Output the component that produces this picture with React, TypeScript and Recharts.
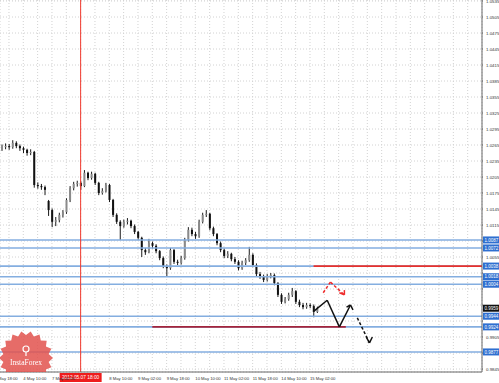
import React from "react";
import { ComposedChart, Bar, XAxis, YAxis, CartesianGrid, ReferenceLine } from "recharts";

// AUD/USD, 2h bars, 3 May - 15 May 2012
const CLOSE = [
  1.0261, 1.0263, 1.0261, 1.0269, 1.0263, 1.0259, 1.0256, 1.025, 1.0252, 1.019,
  1.0188, 1.0186, 1.0181, 1.0143, 1.0121, 1.0124, 1.0134, 1.0139, 1.0162, 1.0184,
  1.0192, 1.0194, 1.0188, 1.0213, 1.0203, 1.0211, 1.0194, 1.0175, 1.0179, 1.019,
  1.0162, 1.0134, 1.0121, 1.0113, 1.0121, 1.0123, 1.0113, 1.0102, 1.0091, 1.0068,
  1.0064, 1.0081, 1.0076, 1.0066, 1.0053, 1.0038, 1.0034, 1.0068, 1.0046, 1.0044,
  1.0053, 1.0087, 1.0106, 1.0098, 1.0094, 1.0121, 1.0134, 1.0136, 1.0109, 1.0098,
  1.0081, 1.0068, 1.0057, 1.0061, 1.0051, 1.0046, 1.0034, 1.0044, 1.0049, 1.0059,
  1.004, 1.0023, 1.0018, 1.0012, 1.0019, 1.0021, 1.0006, 0.9984, 0.9971, 0.9976,
  0.9984, 0.9991, 0.9971, 0.9965, 0.9961, 0.9965, 0.9963, 0.9952, 0.9959,
];
const HIGH = [
  1.0266, 1.0268, 1.0267, 1.0274, 1.0272, 1.0266, 1.0262, 1.0258, 1.0257, 1.0254,
  1.0195, 1.0192, 1.0189, 1.0162, 1.0146, 1.013, 1.0138, 1.0143, 1.0165, 1.0188,
  1.0196, 1.0198, 1.0197, 1.0218, 1.0215, 1.0215, 1.0213, 1.0196, 1.0184, 1.0194,
  1.0192, 1.0164, 1.0137, 1.0124, 1.0125, 1.0128, 1.0125, 1.0116, 1.0104, 1.0093,
  1.0072, 1.0089, 1.0084, 1.0079, 1.0068, 1.0056, 1.0041, 1.0072, 1.007, 1.005,
  1.0057, 1.0091, 1.0111, 1.011, 1.0102, 1.0125, 1.0138, 1.0143, 1.0138, 1.0112,
  1.01, 1.0084, 1.0071, 1.0066, 1.0063, 1.0055, 1.0049, 1.0048, 1.0053, 1.0074,
  1.0062, 1.0043, 1.0027, 1.0022, 1.0023, 1.0025, 1.0024, 1.0008, 0.9987, 0.998,
  0.9988, 0.9997, 0.9993, 0.9975, 0.9969, 0.9969, 0.9968, 0.9966, 0.9962,
];
const LOW = [
  1.0254, 1.0257, 1.0256, 1.0258, 1.0259, 1.0254, 1.025, 1.0245, 1.0246, 1.0185,
  1.0183, 1.0181, 1.0171, 1.0132, 1.0111, 1.0113, 1.012, 1.0129, 1.0136, 1.0158,
  1.018, 1.0187, 1.0181, 1.0186, 1.0199, 1.02, 1.019, 1.0171, 1.0172, 1.0176,
  1.0158, 1.013, 1.0117, 1.0087, 1.011, 1.0116, 1.0109, 1.0098, 1.0087, 1.0055,
  1.0059, 1.0062, 1.0071, 1.0062, 1.0049, 1.0034, 1.0018, 1.0031, 1.0042, 1.004,
  1.0041, 1.005, 1.0084, 1.0094, 1.0089, 1.0091, 1.0118, 1.013, 1.0105, 1.0094,
  1.0077, 1.0064, 1.0053, 1.0053, 1.0047, 1.0042, 1.003, 1.0031, 1.004, 1.0046,
  1.0036, 1.0019, 1.0014, 1.0008, 1.0009, 1.0015, 1.0002, 0.998, 0.9967, 0.9968,
  0.9973, 0.998, 0.9967, 0.9961, 0.9957, 0.9958, 0.9959, 0.9942, 0.995,
];
const FIRST_OPEN = 1.0258;
const GAP_OPENS: Record<number, number> = { 13: 1.016 };

const PRICE_TICKS = [
  1.0535, 1.0505, 1.0475, 1.0445, 1.0415, 1.0385, 1.0355, 1.0325, 1.0295, 1.0265,
  1.0235, 1.0205, 1.0175, 1.0145, 1.0115, 1.0085, 1.0055, 1.0025, 0.9995, 0.9965,
  0.9935, 0.9905, 0.9875, 0.9845,
];
const TIME_GRID = [-2, 2, 6, 10, 14, 18, 22, 26, 30, 34, 38, 42, 46, 50, 54, 58, 62, 66, 70, 74, 78, 82, 86, 90, 94, 98, 102, 106, 110, 114, 118, 122, 126, 130, 134];
const TIME_LABELS: Record<number, string> = {
  [-2]: "3 May 18:00",
  6: "4 May 10:00",
  14: "7 May 02:00",
  22: "7 May 18:00",
  30: "8 May 10:00",
  38: "9 May 02:00",
  46: "9 May 18:00",
  54: "10 May 10:00",
  62: "11 May 02:00",
  70: "11 May 18:00",
  78: "14 May 10:00",
  86: "15 May 02:00",
};

const LEVELS = [1.0087, 1.0072, 1.0038, 1.0018, 1.0004, 0.9944, 0.9924, 0.9877];
const LAST_PRICE = 0.9959;
const CURSOR_BAR = 22;
const CURSOR_TEXT = "2012.05.07 18:00";
const RESIST = { from: 87, to: 134, price: 1.0038 };
const SUPPORT = { from: 42, to: 96, price: 0.9924 };

// forecast paths: [bar, price]
const PATH_MAIN: [number, number][] = [[87.2, 0.9954], [90.8, 0.9974], [94.2, 0.9924], [97.3, 0.9965]];
const HEAD_MAIN: [number, number][] = [[96.2, 0.9961], [97.3, 0.9965], [98.0, 0.9956]];
const PATH_NEXT: [number, number][] = [[99.2, 0.9941], [102.6, 0.9894]];
const HEAD_NEXT: [number, number][] = [[101.7, 0.9905], [102.6, 0.9894], [103.4, 0.9905]];
const PATH_ALT: [number, number][] = [[89.7, 0.9988], [91.7, 1.0008], [95.6, 0.9984]];
const HEAD_ALT: [number, number][] = [[94.2, 0.9988], [95.6, 0.9984], [95.6, 0.9993]];

const candles = CLOSE.map((c, i) => {
  const open = GAP_OPENS[i] ?? (i === 0 ? FIRST_OPEN : CLOSE[i - 1]);
  return { i, open, close: c, range: [LOW[i], HIGH[i]] };
});

const TAGGED = [...LEVELS, LAST_PRICE];
const FONT = "'Liberation Sans', Arial, sans-serif";

function Candle(props: any) {
  const { x, y, width, height, payload } = props;
  if (!payload || !payload.range) return null;
  const [lo, hi] = payload.range;
  const top = Math.min(y, y + height);
  const h = Math.abs(height);
  const span = hi - lo || 1;
  const toY = (v: number) => top + ((hi - v) / span) * h;
  const cx = x + width / 2;
  const yo = toY(payload.open);
  const yc = toY(payload.close);
  const up = payload.close >= payload.open;
  return (
    <g>
      <line x1={cx} x2={cx} y1={top} y2={top + h} stroke="#1a1a1a" strokeWidth={1} />
      <rect
        x={cx - 1}
        y={Math.min(yo, yc)}
        width={2}
        height={Math.max(Math.abs(yc - yo), 1)}
        fill={up ? "#8a8a8a" : "#111"}
      />
    </g>
  );
}

function TimeTick(props: any) {
  const { x, y, payload } = props;
  // the cursor tag sits on top of its own time label
  if (payload.value === CURSOR_BAR) return null;
  const label = TIME_LABELS[payload.value];
  if (!label) return null;
  return (
    <text x={x} y={y} fontSize={4.2} fill="#333" fontFamily={FONT} textAnchor="start">
      {label}
    </text>
  );
}

function PriceTick(props: any) {
  const { x, y, payload } = props;
  // price tags cover the scale labels next to them
  if (TAGGED.some((p) => Math.abs(p - payload.value) < 0.0009)) return null;
  return (
    <text x={x + 1} y={y + 1.6} fontSize={4.4} fill="#333" fontFamily={FONT} textAnchor="start">
      {payload.value.toFixed(4)}
    </text>
  );
}

function PriceTag(props: any) {
  const { viewBox, text, bg } = props;
  if (!viewBox) return null;
  const x = viewBox.x + viewBox.width + 1;
  const y = viewBox.y;
  return (
    <g>
      <rect x={x} y={y - 3.5} width={17} height={7} fill={bg} />
      <text x={x + 1.5} y={y + 1.7} fontSize={4.5} fill="#fff" fontFamily={FONT}>
        {text}
      </text>
    </g>
  );
}

function TimeTag(props: any) {
  const { viewBox } = props;
  if (!viewBox) return null;
  const x = viewBox.x;
  const y = viewBox.y + viewBox.height + 1;
  return (
    <g>
      <rect x={x - 21} y={y} width={42} height={9} fill="#ee1c1c" />
      <text x={x} y={y + 6.3} fontSize={4.8} fill="#fff" fontFamily={FONT} textAnchor="middle">
        {CURSOR_TEXT}
      </text>
    </g>
  );
}

function pathSegments(pts: [number, number][], key: string, stroke: string, dash?: string) {
  return pts.slice(1).map((p, k) => (
    <ReferenceLine
      key={`${key}-${k}`}
      segment={[
        { x: pts[k][0], y: pts[k][1] },
        { x: p[0], y: p[1] },
      ]}
      stroke={stroke}
      strokeWidth={1.5}
      strokeDasharray={dash}
    />
  ));
}

function Logo() {
  const pts: string[] = [];
  const n = 36;
  for (let k = 0; k < n; k++) {
    const r = k % 2 === 0 ? 27 : 23;
    const a = (k / n) * Math.PI * 2;
    pts.push(`${27 + r * Math.cos(a)},${27 + r * Math.sin(a)}`);
  }
  return (
    <div style={{ position: "absolute", left: -1, top: 331, width: 56, height: 41, overflow: "hidden", pointerEvents: "none" }}>
      <svg width={56} height={56}>
        <polygon points={pts.join(" ")} fill="#e2524e" fillOpacity={0.85} />
        <circle cx={27} cy={18} r={3} fill="none" stroke="#fff" strokeWidth={1.2} />
        <line x1={27} y1={21} x2={27} y2={25} stroke="#fff" strokeWidth={1.2} />
        <text x={27} y={34} fontSize={7.5} fill="#fff" textAnchor="middle" fontFamily="'Liberation Serif', serif">
          InstaForex
        </text>
      </svg>
    </div>
  );
}

export default function App() {
  return (
    <div style={{ position: "fixed", left: 0, top: 0, width: 499, height: 383, background: "#fff" }}>
      <ComposedChart width={499} height={383} data={candles} margin={{ top: 0, right: 0, bottom: 0, left: 0 }}>
        <CartesianGrid stroke="#d2d2d2" strokeDasharray="1 2" />
        <XAxis
          dataKey="i"
          type="number"
          domain={[-0.5, 134]}
          ticks={TIME_GRID}
          allowDataOverflow
          height={11}
          tick={<TimeTick />}
          tickLine={false}
          axisLine={{ stroke: "#666" }}
          interval={0}
        />
        <YAxis
          orientation="right"
          type="number"
          domain={[0.98394, 1.05369]}
          ticks={PRICE_TICKS}
          allowDataOverflow
          width={17}
          tick={<PriceTick />}
          tickSize={1}
          tickLine={{ stroke: "#666" }}
          axisLine={{ stroke: "#666" }}
          interval={0}
        />
        {LEVELS.map((p) => (
          <ReferenceLine key={p} y={p} stroke="#84aee0" strokeWidth={1.6} />
        ))}
        <ReferenceLine
          segment={[
            { x: SUPPORT.from, y: SUPPORT.price },
            { x: SUPPORT.to, y: SUPPORT.price },
          ]}
          stroke="#a4243b"
          strokeWidth={1.6}
        />
        <ReferenceLine
          segment={[
            { x: RESIST.from, y: RESIST.price },
            { x: RESIST.to, y: RESIST.price },
          ]}
          stroke="#e8312c"
          strokeWidth={1.6}
        />
        <ReferenceLine x={CURSOR_BAR} stroke="#f03a2e" strokeWidth={1} label={<TimeTag />} />
        <Bar dataKey="range" barSize={2} shape={<Candle />} isAnimationActive={false} />
        {pathSegments(PATH_MAIN, "main", "#111")}
        {pathSegments(HEAD_MAIN, "hmain", "#111")}
        {pathSegments(PATH_NEXT, "next", "#111", "3 2")}
        {pathSegments(HEAD_NEXT, "hnext", "#111")}
        {pathSegments(PATH_ALT, "alt", "#ee2b2b", "3 2")}
        {pathSegments(HEAD_ALT, "halt", "#ee2b2b")}
        {LEVELS.map((p) => (
          <ReferenceLine key={`t${p}`} y={p} stroke="none" label={<PriceTag text={p.toFixed(4)} bg="#2f6fd0" />} />
        ))}
        <ReferenceLine y={LAST_PRICE} stroke="none" label={<PriceTag text={LAST_PRICE.toFixed(4)} bg="#111" />} />
      </ComposedChart>
      <Logo />
    </div>
  );
}
